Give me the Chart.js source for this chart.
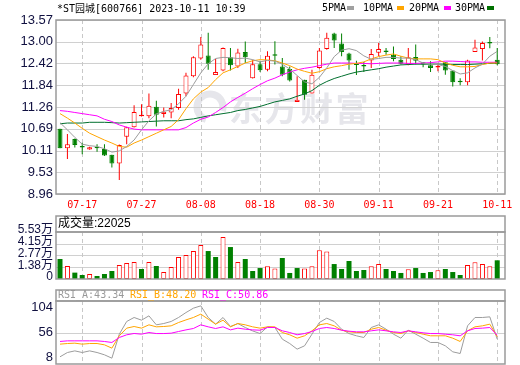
<!DOCTYPE html>
<html>
<head>
<meta charset="utf-8">
<script src="https://cdn.jsdelivr.net/npm/chart.js@4.4.0/dist/chart.umd.min.js"></script>
<style>
  html, body { margin: 0; padding: 0; background: #fff; }
  #wrap { position: relative; width: 520px; height: 365px; overflow: hidden; }
  canvas { position: absolute; left: 0; }
</style>
</head>
<body>
<div id="wrap">
  <canvas id="priceChart" width="520" height="212" style="top:0"></canvas>
  <canvas id="volChart" width="520" height="75" style="top:210px"></canvas>
  <canvas id="rsiChart" width="520" height="80" style="top:285px"></canvas>
</div>
<script>
const dates = [
  '07-12','07-13','07-14','07-17','07-18','07-19','07-20','07-21','07-24','07-25',
  '07-26','07-27','07-28','07-31','08-01','08-02','08-03','08-04','08-07','08-08',
  '08-09','08-10','08-11','08-14','08-15','08-16','08-17','08-18','08-21','08-22',
  '08-23','08-24','08-25','08-28','08-29','08-30','08-31','09-01','09-04','09-05',
  '09-06','09-07','09-08','09-11','09-12','09-13','09-14','09-15','09-18','09-19',
  '09-20','09-21','09-22','09-25','09-26','09-27','09-28','10-09','10-10','10-11'
];
const labelIdx = [3, 11, 19, 27, 35, 43, 51, 59];

const open = [
  10.69,10.17,10.42,10.20,10.14,10.18,10.15,10.00,9.77,10.48,
  10.73,11.02,11.02,11.27,11.08,11.12,11.24,11.62,12.08,12.55,
  12.63,12.11,12.23,12.58,12.34,12.72,12.03,12.40,12.25,12.64,
  12.34,12.27,11.40,11.99,11.62,12.30,12.80,13.21,12.95,12.68,
  12.40,12.36,12.50,12.70,12.74,12.65,12.52,12.39,12.59,12.45,
  12.37,12.31,12.45,12.23,11.96,11.92,12.72,12.80,12.97,12.52
];
const high = [
  10.69,10.55,10.43,10.32,10.21,10.28,10.28,10.00,10.27,10.74,
  11.31,11.34,11.62,11.43,11.25,11.37,11.75,12.17,12.61,13.12,
  13.23,12.54,12.84,12.83,12.81,13.00,12.52,12.49,12.74,13.01,
  12.56,12.34,12.08,11.99,12.25,12.83,13.23,13.23,13.21,12.70,
  12.49,12.46,12.80,12.96,12.83,12.87,12.61,12.83,12.92,12.45,
  12.48,12.41,12.45,12.23,12.03,12.52,13.05,13.00,13.12,12.83
];
const low = [
  10.17,9.89,10.19,10.01,10.13,10.08,9.97,9.66,9.33,10.28,
  10.72,11.01,10.97,10.75,10.99,10.97,11.19,11.55,12.05,12.52,
  12.25,12.11,12.21,12.23,12.30,12.43,12.02,12.19,12.21,12.39,
  12.08,11.94,11.40,11.46,11.62,12.28,12.78,12.83,12.61,12.25,
  12.11,12.19,12.30,12.61,12.65,12.48,12.39,12.37,12.39,12.32,
  12.19,12.21,12.12,11.81,11.84,11.84,12.72,12.50,12.82,12.37
];
const close = [
  10.17,10.28,10.26,10.19,10.20,10.17,9.98,9.77,10.26,10.73,
  11.13,11.06,11.30,11.06,11.14,11.24,11.61,12.10,12.58,12.92,
  12.41,12.19,12.83,12.37,12.71,12.58,12.40,12.24,12.62,12.62,
  12.12,11.97,11.46,11.59,12.12,12.76,13.10,13.03,12.72,12.50,
  12.38,12.34,12.67,12.80,12.72,12.54,12.41,12.58,12.49,12.39,
  12.30,12.33,12.23,11.92,11.92,12.50,12.84,12.96,12.95,12.40
];

const ma5 = [
  10.85,10.66,10.46,10.28,10.24,10.22,10.16,10.07,10.10,10.22,
  10.39,10.66,10.90,11.08,11.15,11.19,11.35,11.55,11.86,12.17,
  12.41,12.55,12.58,12.57,12.55,12.56,12.52,12.46,12.50,12.48,
  12.40,12.27,12.10,11.93,11.88,12.05,12.30,12.60,12.77,12.81,
  12.76,12.62,12.53,12.55,12.58,12.58,12.56,12.56,12.52,12.43,
  12.40,12.39,12.34,12.23,12.14,12.17,12.30,12.40,12.61,12.74
];
const ma10 = [
  11.09,10.97,10.84,10.70,10.57,10.48,10.39,10.31,10.22,10.20,
  10.31,10.39,10.48,10.57,10.66,10.75,10.93,11.22,11.48,11.66,
  11.78,11.99,12.17,12.25,12.34,12.43,12.49,12.52,12.51,12.49,
  12.43,12.36,12.27,12.21,12.16,12.20,12.28,12.33,12.36,12.40,
  12.42,12.46,12.54,12.60,12.64,12.67,12.61,12.56,12.54,12.54,
  12.54,12.52,12.43,12.37,12.33,12.33,12.34,12.39,12.43,12.43
];
const ma20 = [
  11.17,11.15,11.12,11.09,11.06,11.03,10.94,10.88,10.79,10.73,
  10.68,10.66,10.66,10.66,10.66,10.66,10.66,10.72,10.84,10.94,
  11.00,11.12,11.25,11.40,11.52,11.63,11.75,11.86,11.96,12.03,
  12.12,12.19,12.25,12.29,12.32,12.36,12.40,12.43,12.43,12.43,
  12.42,12.42,12.41,12.42,12.43,12.43,12.43,12.42,12.42,12.43,
  12.44,12.46,12.48,12.48,12.47,12.46,12.46,12.45,12.45,12.45
];
const ma30 = [
  10.82,10.84,10.84,10.84,10.86,10.86,10.86,10.85,10.84,10.85,
  10.86,10.87,10.88,10.89,10.90,10.90,10.90,10.93,10.95,10.99,
  11.03,11.06,11.09,11.12,11.17,11.20,11.24,11.28,11.34,11.40,
  11.44,11.48,11.55,11.61,11.70,11.84,11.94,12.02,12.08,12.14,
  12.19,12.22,12.25,12.28,12.32,12.35,12.38,12.39,12.40,12.40,
  12.40,12.40,12.40,12.39,12.39,12.39,12.40,12.41,12.42,12.43
];

// volume in 万 shares, 1 = red (up) bar, 0 = green
const volume = [
  2.35,1.53,0.75,0.47,0.59,0.35,0.59,0.94,1.65,1.88,
  2.00,1.18,2.00,1.53,0.82,1.41,2.59,2.82,3.29,4.00,
  3.29,2.59,4.94,3.76,2.00,2.35,0.94,1.29,1.49,1.25,
  2.47,0.71,1.29,1.25,1.49,3.37,3.25,1.76,1.18,2.12,
  0.94,1.06,1.49,1.76,1.18,0.94,0.71,1.14,1.29,0.71,
  0.82,1.02,1.18,0.82,0.47,1.65,1.96,1.76,1.49,2.20
];
const volUp = [
  0,1,0,0,1,0,0,0,1,1,
  1,0,1,0,1,1,1,1,1,1,
  0,0,1,0,1,0,0,0,1,1,
  0,0,0,1,1,1,1,0,0,0,
  0,0,1,1,0,0,0,1,0,0,
  0,1,0,0,0,1,1,1,1,0
];

const rsiA = [
  9.7,17.9,21,17.9,21,17.9,13.5,7.1,52.8,77,
  84.6,79.5,87.7,70.6,73.1,77,84.6,94,102.3,106.8,
  84.6,71.9,84.6,67.4,73.1,65.5,59,54,66.8,65.5,
  43.3,35,24.3,30.6,52.8,75,83.3,77,62.3,54,
  49.7,46.5,65.5,70.6,62.3,52.8,45.2,60.4,52.8,45.2,
  37,37,30.6,19.2,16,68.7,84.6,84.6,85.8,43.34
];
const rsiB = [
  33.8,35,35.7,33.8,35,35,32.5,26.2,49.7,64.3,
  67.4,64.3,70.6,66.8,67.4,68.7,75,80,84.6,91,
  81.4,71.9,79.5,66.8,73.1,70.6,66.8,64.3,66.8,66.8,
  56,51.6,45.2,49.7,59.2,70.6,73.1,68.7,60.4,57.3,
  56,56,62.3,65.5,60.4,56,54,59.2,56,52.8,
  49.7,49.7,49.7,45.2,38.9,59.2,66.8,68.7,71.9,48.2
];
const rsiC = [
  38.9,40.1,40.1,40.1,40.1,40.1,38.9,37,46.5,51.6,
  54.1,52.8,56,54,54,54.7,57.9,61,63.6,70.6,
  66.8,63.6,66.8,61,64.3,62.3,61,60.4,65.5,65.5,
  59.2,56,51.6,54,57.9,63.6,65.5,63.6,60.4,58.5,
  57.3,57.3,59.2,61,59.2,57.3,56,59.2,57.3,55.4,
  54,54,52.8,51.6,49.7,59.2,63.6,64.3,65.5,50.86
];

const priceTicks = [8.96, 9.53, 10.11, 10.69, 11.26, 11.84, 12.42, 13.00, 13.57];
const priceTickLabels = ['8.96', '9.53', '10.11', '10.69', '11.26', '11.84', '12.42', '13.00', '13.57'];
const volTicks = [0, 1.38, 2.77, 4.15, 5.53];
const volTickLabels = ['0', '1.38万', '2.77万', '4.15万', '5.53万'];
const rsiTicks = [8, 56, 104];

const RED = '#ff0000';
const GREEN = '#008000';
const MONO = '"DejaVu Sans Mono", "Noto Sans CJK SC", monospace';
const SANS = '"Liberation Sans", Arial, "Noto Sans CJK SC", sans-serif';

const pts = arr => arr.map((v, i) => ({ x: i, y: v }));
const isUp = i => close[i] >= open[i];

function xAxis(show) {
  return {
    type: 'linear', min: -0.54, max: 60.05, display: show, offset: false,
    grid: { display: false, drawTicks: false }, border: { display: false },
    afterBuildTicks: s => { s.ticks = labelIdx.map(v => ({ value: v })); },
    ticks: { autoSkip: false, maxRotation: 0, padding: 5, color: RED,
      font: { family: MONO, size: 10 }, callback: v => dates[v] },
    afterFit: s => {
      s.height = show ? 18 : 0;
      s.paddingLeft = 0; s.paddingRight = 0;
    }
  };
}
function yAxis(min, max, ticks, labels, size, offset) {
  return {
    min: min, max: max,
    grid: { display: false, drawTicks: false }, border: { display: false },
    afterBuildTicks: s => { s.ticks = ticks.map(v => ({ value: v })); },
    ticks: { autoSkip: false, padding: 3, color: '#101040', labelOffset: offset || 0,
      font: { family: SANS, size: size }, callback: (v, i) => labels[i] },
    afterFit: s => { s.width = 56; s.paddingTop = 0; s.paddingBottom = 0; }
  };
}

// grid, box and header texts for each panel
const panelPlugin = {
  id: 'panel',
  beforeDatasetsDraw(chart, args, opts) {
    const { ctx, chartArea: a, scales: { x, y } } = chart;
    ctx.save();
    if (opts.watermark) {
      ctx.fillStyle = '#e6e6eb';
      ctx.strokeStyle = '#e6e6eb';
      ctx.lineWidth = 7;
      ctx.beginPath();
      ctx.arc(210, 107, 13, Math.PI * 0.6, Math.PI * 2.1);
      ctx.stroke();
      ctx.font = 'bold 33px "Noto Sans CJK SC"';
      ctx.textBaseline = 'middle';
      '东方财富'.split('').forEach((c, k) => ctx.fillText(c, 229 + k * 35.5, 108));
    }
    ctx.strokeStyle = '#d0d0d0';
    ctx.lineWidth = 1;
    opts.hLines.forEach(v => {
      const py = Math.round(y.getPixelForValue(v)) + 0.5;
      ctx.beginPath(); ctx.moveTo(a.left, py); ctx.lineTo(a.right, py); ctx.stroke();
    });
    ctx.strokeStyle = '#c8c8c8';
    ctx.setLineDash([4, 3]);
    labelIdx.forEach(i => {
      const px = Math.round(x.getPixelForValue(i)) + 0.5;
      ctx.beginPath(); ctx.moveTo(px, a.top); ctx.lineTo(px, a.bottom); ctx.stroke();
    });
    ctx.restore();
  },
  afterDraw(chart, args, opts) {
    const { ctx, chartArea: a } = chart;
    ctx.save();
    ctx.strokeStyle = '#9a9a9a';
    ctx.lineWidth = 1.5;
    ctx.strokeRect(a.left, a.top, a.right - a.left, a.bottom - a.top);
    if (opts.headerTop != null) {
      ctx.strokeRect(a.left, opts.headerTop, a.right - a.left, a.top - opts.headerTop);
    }
    ctx.textBaseline = 'middle';
    (opts.texts || []).forEach(t => {
      ctx.font = t.font;
      ctx.fillStyle = t.color;
      ctx.fillText(t.text, t.x, t.y);
    });
    (opts.swatches || []).forEach(s => {
      ctx.fillStyle = s.color;
      ctx.fillRect(s.x, s.y, 7, 4);
    });
    ctx.restore();
  }
};

const common = {
  responsive: false, animation: false, devicePixelRatio: 1, events: []
};

const lineDs = (data, color) => ({
  type: 'line', data: pts(data), borderColor: color, borderWidth: 1,
  pointRadius: 0, tension: 0, fill: false
});

new Chart(document.getElementById('priceChart'), {
  data: {
    datasets: [
      lineDs(ma5, '#9c9c9c'),
      lineDs(ma10, '#ffa500'),
      lineDs(ma20, '#ff00ff'),
      lineDs(ma30, '#006f2e'),
      {
        type: 'bar', grouped: false,
        data: open.map((o, i) => ({ x: i, y: [o, close[i]] })),
        barThickness: 5, minBarLength: 1.5, inflateAmount: 0, borderSkipped: false,
        backgroundColor: c => isUp(c.dataIndex) ? '#ffffff' : GREEN,
        borderColor: c => isUp(c.dataIndex) ? RED : GREEN,
        borderWidth: 1
      },
      {
        type: 'bar', grouped: false,
        data: low.map((l, i) => ({ x: i, y: [l, high[i]] })),
        barThickness: 1, inflateAmount: 0, borderWidth: 0,
        backgroundColor: c => isUp(c.dataIndex) ? RED : GREEN
      }
    ]
  },
  options: Object.assign({}, common, {
    layout: { padding: { top: 20, right: 15, bottom: 0, left: 0 } },
    scales: {
      x: xAxis(true),
      y: yAxis(8.96, 13.57, priceTicks, priceTickLabels, 13, 0)
    },
    plugins: {
      legend: { display: false }, tooltip: { enabled: false },
      panel: {
        watermark: true,
        hLines: priceTicks,
        texts: [
          { text: '*ST园城[600766] 2023-10-11 10:39', x: 57, y: 9, color: '#000', font: '10px ' + MONO },
          { text: '5PMA', x: 322, y: 8, color: '#000', font: '10px ' + MONO },
          { text: '10PMA', x: 363, y: 8, color: '#000', font: '10px ' + MONO },
          { text: '20PMA', x: 409, y: 8, color: '#000', font: '10px ' + MONO },
          { text: '30PMA', x: 455, y: 8, color: '#000', font: '10px ' + MONO }
        ],
        swatches: [
          { x: 347, y: 6, color: '#a0a0a0' },
          { x: 397, y: 6, color: '#ffa500' },
          { x: 444, y: 6, color: '#ff00ff' },
          { x: 487, y: 6, color: '#007000' }
        ]
      }
    }
  }),
  plugins: [panelPlugin]
});

new Chart(document.getElementById('volChart'), {
  data: {
    datasets: [{
      type: 'bar', grouped: false,
      data: pts(volume),
      barThickness: 5, inflateAmount: 0, borderSkipped: false,
      backgroundColor: c => volUp[c.dataIndex] ? '#ffffff' : GREEN,
      borderColor: c => volUp[c.dataIndex] ? RED : GREEN,
      borderWidth: c => volUp[c.dataIndex] ? 1 : 0
    }]
  },
  options: Object.assign({}, common, {
    layout: { padding: { top: 22, right: 15, bottom: 6, left: 0 } },
    scales: {
      x: xAxis(false),
      y: yAxis(0, 5.53, volTicks, volTickLabels, 12, -2)
    },
    plugins: {
      legend: { display: false }, tooltip: { enabled: false },
      panel: {
        hLines: [1.38, 2.77, 4.15],
        headerTop: 6,
        texts: [
          { text: '成交量:22025', x: 58, y: 14, color: '#000', font: '12px ' + SANS }
        ]
      }
    }
  }),
  plugins: [panelPlugin]
});

new Chart(document.getElementById('rsiChart'), {
  data: {
    datasets: [
      lineDs(rsiC, '#ff00ff'),
      lineDs(rsiB, '#ffa500'),
      lineDs(rsiA, '#9c9c9c')
    ]
  },
  options: Object.assign({}, common, {
    layout: { padding: { top: 16, right: 15, bottom: 1, left: 0 } },
    scales: {
      x: xAxis(false),
      y: yAxis(-4, 116, rsiTicks, ['8', '56', '104'], 13, 0)
    },
    plugins: {
      legend: { display: false }, tooltip: { enabled: false },
      panel: {
        hLines: [56],
        headerTop: 5,
        texts: [
          { text: 'RSI_A:43.34', x: 58, y: 10.5, color: '#999999', font: '10px ' + MONO },
          { text: 'RSI_B:48.20', x: 130, y: 10.5, color: '#ffa500', font: '10px ' + MONO },
          { text: 'RSI_C:50.86', x: 202, y: 10.5, color: '#ff00ff', font: '10px ' + MONO }
        ]
      }
    }
  }),
  plugins: [panelPlugin]
});
</script>
</body>
</html>
